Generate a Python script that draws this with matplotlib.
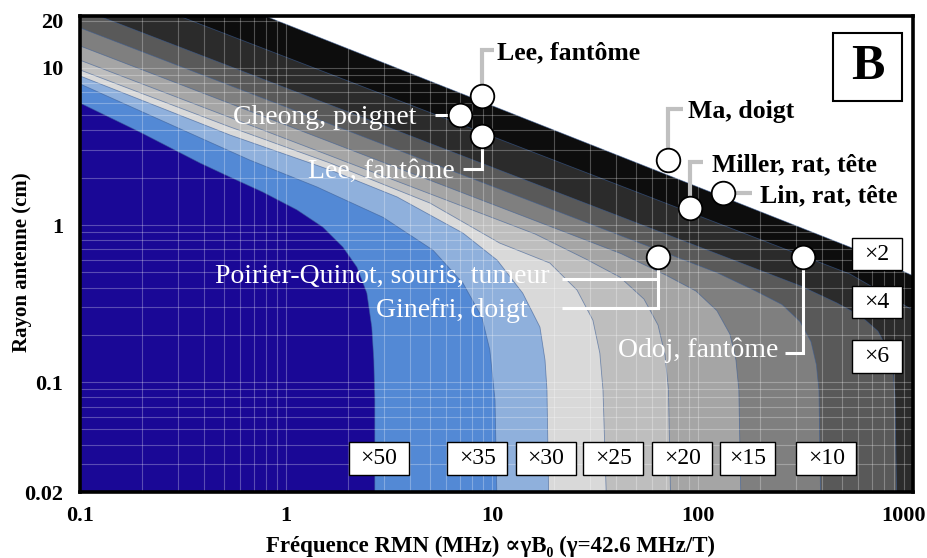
#!/usr/bin/env python3
"""
plot.py -- SNR gain map versus NMR frequency and coil radius, with published
experiments placed on top (panel B).
"""
import matplotlib
matplotlib.use('Agg')
import matplotlib.pyplot as plt
from matplotlib.patches import Rectangle
from matplotlib.ticker import LogLocator, NullFormatter

plt.rcParams['font.family'] = ['Liberation Serif', 'DejaVu Serif']

# iso-gain levels and the fill colour of the band enclosed by each level
gain_levels = [2, 4, 6, 10, 15, 20, 25, 30, 35, 50]
band_colors = ['#0d0d0d', '#2b2b2b', '#595959', '#7f7f7f', '#a5a5a5',
               '#bebebe', '#d9d9d9', '#8fb0dc', '#5389d5', '#1a0896']

# iso-gain boundaries, frequency (MHz) and radius (cm), top-left to bottom-right
iso2_f = [0.1, 547, 1200]
iso2_r = [62.5, 0.724, 0.453]
iso4_f = [0.1, 547, 1200]
iso4_r = [37.4, 0.488, 0.27]
iso6_f = [0.1, 316, 473, 618, 748, 836, 885, 904, 925]
iso6_r = [23.8, 0.409, 0.319, 0.263, 0.211, 0.160, 0.1175, 0.0826, 0.015]
iso10_f = [0.1, 123.6, 191, 256, 313, 354, 376, 387, 395]
iso10_r = [18.0, 0.498, 0.380, 0.312, 0.243, 0.181, 0.129, 0.088, 0.015]
iso15_f = [0.1, 42.3, 69.9, 97.8, 123.6, 143, 153, 158, 162]
iso15_r = [13.8, 0.658, 0.480, 0.380, 0.285, 0.202, 0.138, 0.089, 0.015]
iso20_f = [0.1, 16.2, 28.6, 41.8, 54.7, 64.0, 69.2, 71.9, 73.9]
iso20_r = [11.2, 0.877, 0.607, 0.466, 0.338, 0.231, 0.149, 0.090, 0.015]
iso25_f = [0.1, 0.535, 1.64, 5.0, 10.9, 19.1, 25.9, 30.9, 33.4, 34.6, 36.1]
iso25_r = [9.71, 4.21, 2.48, 1.38, 0.768, 0.573, 0.385, 0.248, 0.153, 0.089, 0.015]
iso30_f = [0.1, 0.535, 1.64, 3.46, 7.23, 10.6, 14.1, 17.1, 18.1, 18.5, 18.9]
iso30_r = [8.89, 3.74, 2.24, 1.51, 0.889, 0.598, 0.369, 0.224, 0.138, 0.089, 0.015]
iso35_f = [0.1, 0.668, 1.41, 2.96, 5.17, 7.23, 8.93, 9.77, 10.35, 10.6]
iso35_r = [7.91, 2.59, 1.75, 1.12, 0.693, 0.427, 0.26, 0.16, 0.077, 0.015]
iso50_f = [0.1, 0.195, 0.383, 0.535, 0.773, 1.13, 1.51, 1.89, 2.21, 2.47,
           2.61, 2.67, 2.70, 2.70]
iso50_r = [5.98, 3.91, 2.48, 2.02, 1.62, 1.25, 0.97, 0.724, 0.54, 0.369,
           0.224, 0.138, 0.077, 0.015]

iso_f = [iso2_f, iso4_f, iso6_f, iso10_f, iso15_f, iso20_f, iso25_f,
         iso30_f, iso35_f, iso50_f]
iso_r = [iso2_r, iso4_r, iso6_r, iso10_r, iso15_r, iso20_r, iso25_r,
         iso30_r, iso35_r, iso50_r]

# published experiments: frequency (MHz), coil radius (cm)
exp_freq = [8.93, 7.0, 8.93, 71.4, 91.4, 132, 64, 324]
exp_radius = [6.63, 5.02, 3.69, 2.59, 1.28, 1.6, 0.625, 0.625]

x_ticks = [0.1, 1, 10, 100, 1000]
x_tick_labels = ['0.1', '1', '10', '100', '1000']
y_ticks = [0.02, 0.1, 1, 10, 20]
y_tick_labels = ['0.02', '0.1', '1', '10', '20']

# label, experiment index, connector path after the marker, text anchor, ha, style
notes = [
    ('Lee, fantôme', 0, [(8.93, 13.0), (10.2, 13.0)], (10.6, 13.0), 'left', 'dark'),
    ('Cheong, poignet', 1, [(5.29, 5.02)], (4.32, 5.02), 'right', 'light'),
    ('Lee, fantôme', 2, [(8.93, 2.27), (7.23, 2.27)], (6.61, 2.30), 'right', 'light'),
    ('Ma, doigt', 3, [(71.4, 5.48), (84.5, 5.48)], (89.4, 5.48), 'left', 'dark'),
    ('Miller, rat, tête', 4, [(91.4, 2.52), (105.7, 2.52)], (117, 2.52), 'left', 'dark'),
    ('Lin, rat, tête', 5, [(183, 1.6)], (200, 1.6), 'left', 'dark'),
    ('Poirier-Quinot, souris, tumeur', 6, [(64, 0.453), (21.9, 0.453)],
     (19.1, 0.49), 'right', 'light'),
    ('Ginefri, doigt', 6, [(64, 0.296), (21.9, 0.296)], (14.8, 0.30), 'right', 'light'),
    ('Odoj, fantôme', 7, [(324, 0.153), (264, 0.153)], (245, 0.168), 'right', 'light'),
]

# gain tags, centre in axes fraction and box width
gain_tags = {
    50: (0.359, 0.071, 0.072), 35: (0.477, 0.071, 0.072),
    30: (0.559, 0.071, 0.072), 25: (0.640, 0.071, 0.072),
    20: (0.723, 0.071, 0.072), 15: (0.801, 0.071, 0.066),
    10: (0.896, 0.071, 0.072),
    2: (0.957, 0.500, 0.060), 4: (0.957, 0.399, 0.060), 6: (0.957, 0.285, 0.060),
}


def main():
    fig = plt.figure(figsize=(9.28, 5.58), dpi=100)
    ax = fig.add_axes([80 / 928, 1 - 492 / 558, 833 / 928, 476 / 558])
    ax.set_xscale('log')
    ax.set_yscale('log')
    ax.set_xlim(0.1, 1107)
    ax.set_ylim(0.02, 21.4)

    # 1) nested iso-gain bands, outermost first
    lo_f, lo_r = 0.1, 0.015
    for fs, rs, col in zip(iso_f, iso_r, band_colors):
        poly_f = [lo_f, lo_f] + list(fs) + [fs[-1]]
        poly_r = [lo_r, rs[0]] + list(rs) + [lo_r]
        ax.fill(poly_f, poly_r, color=col, lw=0, zorder=1)
        ax.plot(fs, rs, color='#3a5d96', lw=0.6, alpha=0.6, zorder=2)

    # 2) axes, grid, ticks
    ax.set_axisbelow(False)
    ax.grid(True, which='both', color='white', alpha=0.28, lw=0.8)
    ax.xaxis.set_minor_locator(LogLocator(base=10, subs=range(2, 10)))
    ax.yaxis.set_minor_locator(LogLocator(base=10, subs=range(2, 10)))
    ax.xaxis.set_minor_formatter(NullFormatter())
    ax.yaxis.set_minor_formatter(NullFormatter())
    ax.set_xticks(x_ticks, x_tick_labels, fontsize=16, fontweight='bold')
    ax.set_yticks(y_ticks, y_tick_labels, fontsize=16, fontweight='bold')
    ax.tick_params(which='both', length=0)
    ax.tick_params(axis='x', pad=10)
    ax.tick_params(axis='y', pad=12)
    for sp in ax.spines.values():
        sp.set_linewidth(2.6)
        sp.set_color('black')
        sp.set_zorder(6)

    fig.text(491 / 928, 1 - 546 / 558,
             'Fréquence RMN (MHz) ∝γB₀ (γ=42.6 MHz/T)',
             ha='center', va='center', fontsize=16.5, fontweight='bold')
    fig.text(22 / 928, 1 - 262 / 558, 'Rayon antenne (cm)', rotation=90,
             ha='center', va='center', fontsize=15, fontweight='bold')

    # 3) experiments: connectors, markers, labels
    for text, idx, path, (tx, ty), ha, style in notes:
        pf = [exp_freq[idx]] + [p[0] for p in path]
        pr = [exp_radius[idx]] + [p[1] for p in path]
        if style == 'dark':
            ax.plot(pf, pr, color='#c0c0c0', lw=3.0, solid_capstyle='butt',
                    solid_joinstyle='miter', zorder=4)
            ax.text(tx, ty, text, ha=ha, va='center_baseline', fontsize=18.5,
                    fontweight='bold', color='black', zorder=5)
        else:
            ax.plot(pf, pr, color='white', lw=2.2, solid_capstyle='butt',
                    solid_joinstyle='miter', zorder=4)
            ax.text(tx, ty, text, ha=ha, va='center_baseline', fontsize=20,
                    color='white', zorder=5)

    ax.plot(exp_freq, exp_radius, 'o', ms=17, mfc='white', mec='black',
            mew=1.3, ls='none', zorder=5)

    # 4) gain tags and panel letter
    for g, (cx, cy, w) in gain_tags.items():
        h = 0.069
        ax.add_patch(Rectangle((cx - w / 2, cy - h / 2), w, h,
                               transform=ax.transAxes, fc='white',
                               ec='black', lw=1.0, zorder=5))
        ax.text(cx, cy, '×%d' % g, transform=ax.transAxes, ha='center',
                va='center', fontsize=17, zorder=6)

    ax.add_patch(Rectangle((0.904, 0.821), 0.083, 0.143, transform=ax.transAxes,
                           fc='white', ec='black', lw=1.5, zorder=5))
    ax.text(0.9455, 0.8925, 'B', transform=ax.transAxes, ha='center',
            va='center', fontsize=36, fontweight='bold', zorder=6)

    fig.savefig('out.png', dpi=100)


if __name__ == '__main__':
    main()
